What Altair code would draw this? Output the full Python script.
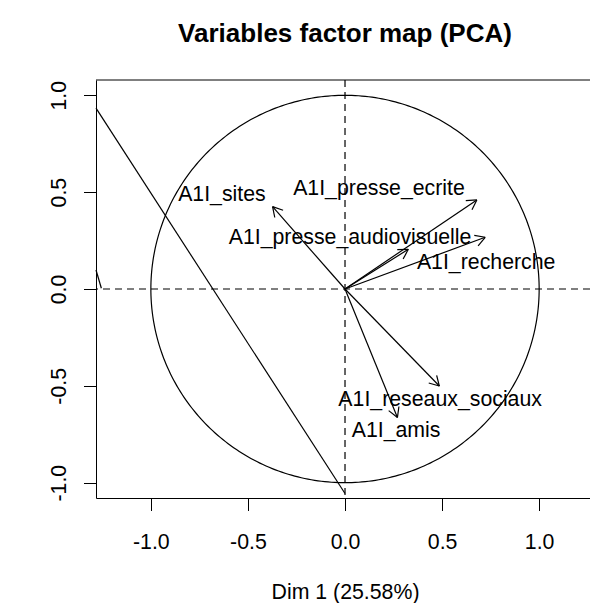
import altair as alt
import numpy as np
import pandas as pd

# ---- data ----
variables = ["A1I_sites", "A1I_presse_ecrite", "A1I_presse_audiovisuelle",
             "A1I_recherche", "A1I_reseaux_sociaux", "A1I_amis"]
dim1 = [-0.373, 0.679, 0.326, 0.722, 0.486, 0.270]
dim2 = [0.425, 0.460, 0.205, 0.267, -0.501, -0.663]
label_x = [-0.634, 0.175, 0.026, 0.727, 0.490, 0.263]
label_y = [0.486, 0.517, 0.264, 0.136, -0.574, -0.732]

# stray segments visible in the reference
stray_x1 = [-1.2826, -1.2826]
stray_y1 = [0.934, 0.098]
stray_x2 = [0.0, -1.255]
stray_y2 = [-1.056, 0.004]

title_text = "Variables factor map (PCA)"
x_title = "Dim 1 (25.58%)"
tick_values = [-1.0, -0.5, 0.0, 0.5, 1.0]
x_domain = [-1.2826, 1.2619]
y_domain = [-1.079, 1.079]

FONT = "Liberation Sans"
FS = 21.3
LW = 1.2

# ---- derived tables ----
arrows = pd.DataFrame({"var": variables, "x": 0.0, "y": 0.0, "x2": dim1, "y2": dim2})

head_len = 0.057
head_ang = np.deg2rad(30)
heads = []
for v, tx, ty in zip(variables, dim1, dim2):
    phi = np.arctan2(ty, tx)
    for s in (-1, 1):
        heads.append({"var": v, "x": tx, "y": ty,
                      "x2": tx - head_len * np.cos(phi + s * head_ang),
                      "y2": ty - head_len * np.sin(phi + s * head_ang)})
heads = pd.DataFrame(heads)

labels = pd.DataFrame({"var": variables, "x": label_x, "y": label_y})

theta = np.linspace(0, 2 * np.pi, 361)
circle = pd.DataFrame({"x": np.cos(theta), "y": np.sin(theta), "o": np.arange(361)})

stray = pd.DataFrame({"x": stray_x1, "y": stray_y1, "x2": stray_x2, "y2": stray_y2})

one_row = pd.DataFrame({"k": [0]})

# ---- encodings ----
x_scale = alt.Scale(domain=x_domain, nice=False, zero=False)
y_scale = alt.Scale(domain=y_domain, nice=False, zero=False)

label_expr = ("datum.value < 0 ? '-' + format(-datum.value, '.1f') "
              ": format(datum.value, '.1f')")

x_axis = alt.Axis(values=tick_values, labelExpr=label_expr, grid=False, tickSize=12.5,
                  labelPadding=37.5, labelBaseline="alphabetic", labelFont=FONT,
                  labelFontSize=FS, labelColor="black", tickColor="black",
                  domainColor="black", labelFlush=False, labelOverlap=False,
                  title=x_title, titleFont=FONT, titleFontSize=FS,
                  titleFontWeight="normal", titleColor="black",
                  titleBaseline="alphabetic", titleY=100, titleX=249,
                  titleAlign="center")
y_axis = alt.Axis(values=tick_values, labelExpr=label_expr, grid=False, tickSize=12.5,
                  labelPadding=18.5, labelAngle=270, labelAlign="center",
                  labelBaseline="alphabetic", labelFont=FONT, labelFontSize=FS,
                  labelColor="black", tickColor="black", domainColor="black",
                  labelFlush=False, labelOverlap=False, title=None)

X = alt.X("x:Q", scale=x_scale, axis=x_axis)
Y = alt.Y("y:Q", scale=y_scale, axis=y_axis)

circle_layer = alt.Chart(circle).mark_line(color="black", strokeWidth=LW).encode(
    x=X, y=Y, order="o:Q")

hline = alt.Chart(one_row).mark_rule(color="black", strokeWidth=LW, strokeDash=[7, 5]).encode(
    y=alt.datum(0))
vline = alt.Chart(one_row).mark_rule(color="black", strokeWidth=LW, strokeDash=[7, 5]).encode(
    x=alt.datum(0))
top_border = alt.Chart(one_row).mark_rule(color="black", strokeWidth=1).encode(
    y=alt.datum(y_domain[1]))

shafts = alt.Chart(arrows).mark_rule(color="black", strokeWidth=LW).encode(
    x=X, y=Y, x2="x2:Q", y2="y2:Q")
head_layer = alt.Chart(heads).mark_rule(color="black", strokeWidth=LW).encode(
    x=X, y=Y, x2="x2:Q", y2="y2:Q")
stray_layer = alt.Chart(stray).mark_rule(color="black", strokeWidth=LW).encode(
    x=X, y=Y, x2="x2:Q", y2="y2:Q")

text_layer = alt.Chart(labels).mark_text(font=FONT, fontSize=FS, color="black",
                                         align="center", baseline="middle").encode(
    x=X, y=Y, text="var:N")

chart = alt.layer(
    circle_layer, hline, vline, top_border, stray_layer, shafts, head_layer, text_layer
).properties(
    width=494, height=418,
    title=alt.TitleParams(title_text, font=FONT, fontSize=26, fontWeight="bold",
                          color="black", anchor="middle", frame="group",
                          baseline="alphabetic", offset=11, dx=2),
    padding={"left": 96, "top": 80, "right": 0, "bottom": 105},
    autosize=alt.AutoSizeParams(type="none"),
    background="white",
).configure_view(stroke=None)

chart.save("out.html", embed_options={"renderer": "svg", "actions": False})
